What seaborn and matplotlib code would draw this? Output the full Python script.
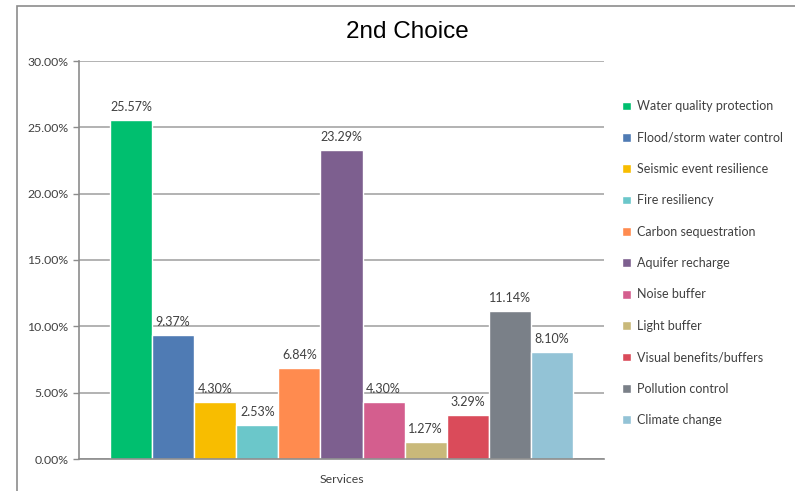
import matplotlib
matplotlib.use("Agg")
import matplotlib.pyplot as plt
import seaborn as sns
import pandas as pd
from matplotlib.patches import Rectangle
from matplotlib.ticker import FuncFormatter

services = ["Water quality protection", "Flood/storm water control", "Seismic event resilience",
            "Fire resiliency", "Carbon sequestration", "Aquifer recharge", "Noise buffer",
            "Light buffer", "Visual benefits/buffers", "Pollution control", "Climate change"]
values = [25.57, 9.37, 4.30, 2.53, 6.84, 23.29, 4.30, 1.27, 3.29, 11.14, 8.10]
colors = ["#00BF6F", "#4F7BB4", "#F8BD00", "#6BC7CA", "#FF8B4F", "#7D5F8F",
          "#D45E8E", "#C9B97A", "#DA4B5A", "#7A8088", "#93C3D6"]
category = "Services"
title = "2nd Choice"
yticks = [0, 5, 10, 15, 20, 25, 30]

sns.set_theme(style="white")
plt.rcParams['font.family'] = ['Lato', 'DejaVu Sans']

df = pd.DataFrame({"cat": [category] * len(services), "service": services, "value": values})

fig = plt.figure(figsize=(7.95, 4.91), dpi=100)
fig.patches.append(Rectangle((17 / 795, -0.1), 1.0, 1 - 6 / 491 + 0.1, transform=fig.transFigure,
                             fill=False, edgecolor="#8C8C8C", linewidth=1.2))
ax = fig.add_axes([79 / 795, 1 - 459 / 491, (604 - 79) / 795, (459 - 61) / 491])

sns.barplot(data=df, x="cat", y="value", hue="service", hue_order=services,
            palette=colors, width=0.882, ax=ax, legend=True, saturation=1)

for cont in ax.containers:
    ax.bar_label(cont, fmt="%.2f%%", padding=5, fontsize=9, color="#404040")

ax.set_xlim(-0.5, 0.5)
ax.set_ylim(0, 30)
ax.set_yticks(yticks)
ax.yaxis.set_major_formatter(FuncFormatter(lambda v, p: f"{v:.2f}%"))
ax.tick_params(axis="y", labelsize=8.8, labelcolor="#404040", length=4, color="#8C8C8C",
               left=True, width=1)
ax.tick_params(axis="x", labelsize=8.8, labelcolor="#404040", length=0, pad=11)
ax.set_xlabel("")
ax.set_ylabel("")
ax.grid(axis="y", color="#A6A6A6", linewidth=1.2)
ax.set_axisbelow(True)
for s in ["top", "right"]:
    ax.spines[s].set_visible(False)
for s in ["left", "bottom"]:
    ax.spines[s].set_color("#8C8C8C")
    ax.spines[s].set_linewidth(1.2)

handles, labels = ax.get_legend_handles_labels()
ax.legend(handles, labels, loc="upper left", bbox_to_anchor=(611 / 795, 1 - 89 / 491),
          bbox_transform=fig.transFigure, frameon=False, fontsize=9,
          handlelength=0.7, handleheight=0.7, handletextpad=0.5, labelspacing=1.55,
          labelcolor="#404040")

fig.text(407 / 795, 1 - 32 / 491, title, ha="center", va="center", fontsize=17.5,
         family=["Liberation Sans", "DejaVu Sans"], color="black")

fig.savefig("out.png", dpi=100)
